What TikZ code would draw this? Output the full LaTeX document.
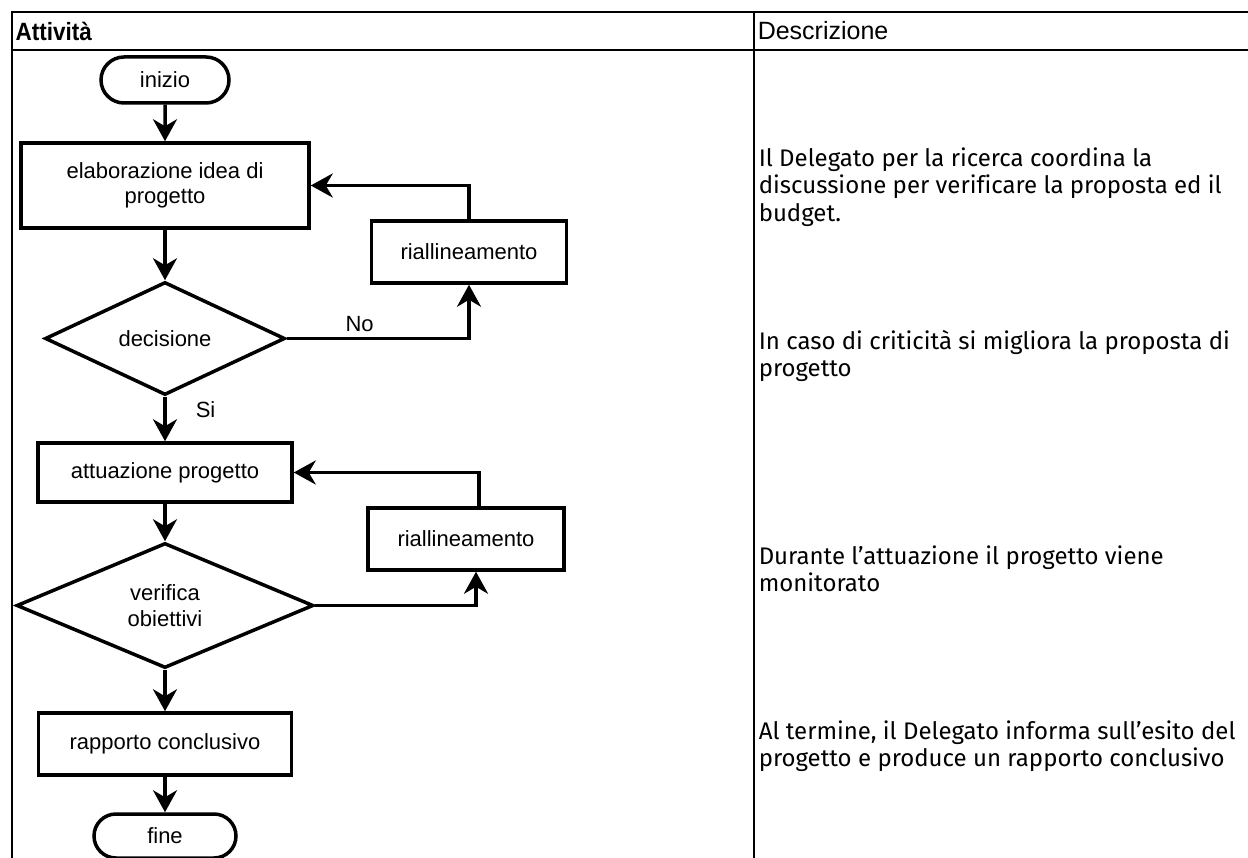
\documentclass[tikz,border=0pt]{standalone}
\usepackage{fontspec}
\setmainfont{Liberation Sans}
\newfontfamily\descfont[Ligatures=NoCommon]{Fira Sans}
\newfontfamily\headfont[FakeStretch=0.9]{Liberation Sans}
\usepackage{tikz}
\usetikzlibrary{positioning}
\usetikzlibrary{shapes.geometric,shapes.misc,arrows.meta}

\begin{document}
\begin{tikzpicture}[x=1pt, y=-1pt,
        >={Stealth[length=22pt,width=24pt,inset=7pt]},
        every node/.style = {font=\fontsize{22}{25.5}\selectfont, align=center, inner sep=0pt},
        every path/.style = {line width=3.5pt},
        box/.style = {draw, rectangle},
        term/.style = {draw, rounded rectangle},
        dia/.style = {draw, diamond},
        head/.style = {anchor=west, font=\fontsize{25}{30}\selectfont},
        desc/.style = {anchor=west, align=left, font=\descfont\fontsize{24}{27.5}\selectfont}
        ]
        \useasboundingbox (0,0) rectangle (1248,858);
        % table
        \draw[line width=2.5pt] (12,880) -- (12,12) -- (1270,12);
        \draw[line width=2.5pt] (12,50) -- (1270,50);
        \draw[line width=2.5pt] (754,12) -- (754,880);
        \node[head, font=\headfont\bfseries\fontsize{25}{30}\selectfont] (h1) at (14,31) {Attività};
        \node[head] (h2) at (756,31) {Descrizione};
        % flowchart
        \node[term, minimum width=128pt, minimum height=46pt] (1) at (165,80) {inizio};
        \node[box, minimum width=288pt, minimum height=85pt] (2) at (165,185.5) {elaborazione idea di\\progetto};
        \node[dia, minimum width=240pt, minimum height=113pt] (3) at (165,338.5) {decisione};
        \node[box, minimum width=254pt, minimum height=59pt] (4) at (165,472.5) {attuazione progetto};
        \node[dia, minimum width=297pt, minimum height=125pt] (5) at (165,605.5) {verifica\\obiettivi};
        \node[box, minimum width=253pt, minimum height=62pt] (6) at (165,744) {rapporto conclusivo};
        \node[term, minimum width=142pt, minimum height=44pt] (7) at (165,836) {fine};
        \node[box, minimum width=195pt, minimum height=62pt] (8) at (469,252) {riallineamento};
        \node[box, minimum width=196pt, minimum height=62pt] (9) at (466,539) {riallineamento};
        \draw[->] (1) -- (2);
        \draw[->] (2) -- (3);
        \draw[->] (3) -- node[pos=0.3, anchor=west, xshift=29pt] {Si} (4);
        \draw[->] (4) -- (5);
        \draw[->] (5) -- (6);
        \draw[->] (6) -- (7);
        \draw[->] (3) -| node[pos=0.2, anchor=south, yshift=5pt] {No} (8);
        \draw[->] (8) |- (2);
        \draw[->] (5) -| ([xshift=10pt]9.south);
        \draw[->] ([xshift=13pt]9.north) |- (4);
        % descriptions
        \node[desc] (d1) at (757,187) {Il Delegato per la ricerca coordina la\\discussione per verificare la proposta ed il\\budget.};
        \node[desc] (d2) at (757,356) {In caso di criticità si migliora la proposta di\\progetto};
        \node[desc] (d3) at (757,569) {Durante l’attuazione il progetto viene\\monitorato};
        \node[desc] (d4) at (757,746) {Al termine, il Delegato informa sull’esito del\\progetto e produce un rapporto conclusivo};
\end{tikzpicture}
\end{document}
